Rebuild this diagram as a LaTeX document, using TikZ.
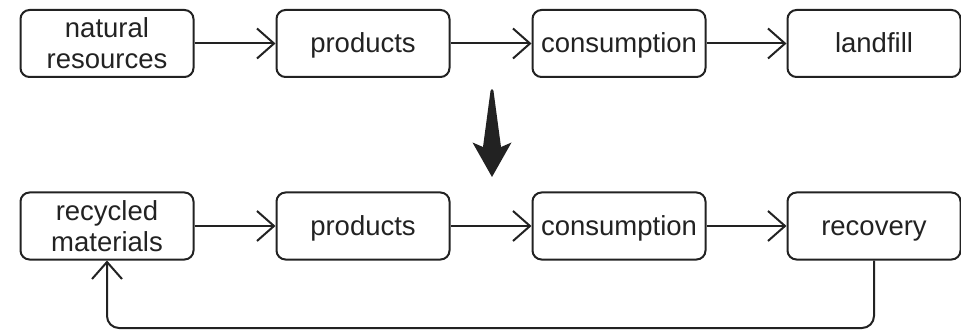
\documentclass[tikz,border=0pt]{standalone}
\usepackage{fontspec}
\setmainfont{Liberation Sans}
\usetikzlibrary{arrows.meta}
\definecolor{ink}{HTML}{222222}
\begin{document}
\begin{tikzpicture}[x=1pt,y=-1pt,
  box/.style={draw=ink, line width=2pt, rounded corners=9pt,
    minimum width=173pt, minimum height=67pt, align=center,
    text=ink, font=\fontsize{27.5}{31}\selectfont, inner sep=0pt},
  oneline/.style={box, text height=21pt, text depth=2pt},
  flow/.style={draw=ink, line width=2pt,
    -{Straight Barb[length=17pt,width=30pt,line width=2pt]}}]
\useasboundingbox (0,0) rectangle (961,331);

% linear economy
\node[box] (nr) at (107,43.5) {natural\\resources};
\node[oneline] (p1) at (363,43.5) {products};
\node[oneline] (c1) at (619,43.5) {consumption};
\node[oneline] (lf) at (874,43.5) {landfill};
\draw[flow] (nr) -- (p1);
\draw[flow] (p1) -- (c1);
\draw[flow] (c1) -- (lf);

% transition arrow
\fill[ink] (490.5,91) .. controls (492,88.5) .. (493.5,91)
  -- (501,147) -- (511.5,142.5) -- (492,177) -- (472.5,142.5)
  -- (483,147) -- cycle;

% circular economy
\node[box] (rm) at (107,226) {recycled\\materials};
\node[oneline] (p2) at (363,226) {products};
\node[oneline] (c2) at (619,226) {consumption};
\node[oneline] (rc) at (874,226) {recovery};
\draw[flow] (rm) -- (p2);
\draw[flow] (p2) -- (c2);
\draw[flow] (c2) -- (rc);
\coordinate (loop) at (0,328);
\draw[flow, rounded corners=12pt] (rc.south) -- (rc.south |- loop)
  -- (rm.south |- loop) -- (rm.south);
\end{tikzpicture}
\end{document}
